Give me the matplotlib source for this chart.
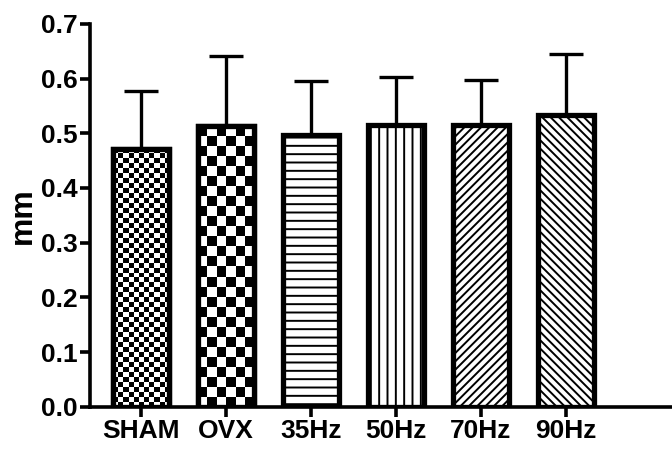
import numpy as np
import matplotlib
matplotlib.use("Agg")
import matplotlib.pyplot as plt

groups = ["SHAM", "OVX", "35Hz", "50Hz", "70Hz", "90Hz"]
means = [0.472, 0.513, 0.497, 0.515, 0.515, 0.533]
errs = [0.106, 0.129, 0.099, 0.088, 0.083, 0.111]
yticks = [0.0, 0.1, 0.2, 0.3, 0.4, 0.5, 0.6, 0.7]

plt.rcParams["font.family"] = ["Liberation Sans", "DejaVu Sans"]
plt.rcParams["font.weight"] = "bold"
plt.rcParams["hatch.linewidth"] = 1.4
plt.rcParams["hatch.color"] = "black"

fig = plt.figure(figsize=(6.72, 4.5), dpi=100)
ax = fig.add_axes([0.134, 0.096, 0.866, 0.851])

x = np.arange(len(groups))
width = 0.66
hatches = [None, None, "--", "||", "////", "\\\\\\\\"]
edge_lw = 3.8

# error bars first so bars cover the lower half
ax.errorbar(x, means, yerr=[np.zeros(len(errs)), errs], fmt="none",
            ecolor="black", elinewidth=2.4, capsize=12, capthick=2.4, zorder=1)

bars = ax.bar(x, means, width, color="white", edgecolor="black",
              linewidth=edge_lw, zorder=2)
for b, h in zip(bars, hatches):
    if h:
        b.set_hatch(h)

# checkerboard fills for SHAM and OVX
px_per_unit_y = 0.851 * 450 / 0.7
px_per_unit_x = 0.866 * 672 / 6.85
for i, sq in [(0, 5), (1, 10)]:
    b = bars[i]
    w_px = width * px_per_unit_x
    h_px = means[i] * px_per_unit_y
    nc = int(round(w_px / sq))
    nr = int(round(h_px / sq))
    board = (np.add.outer(np.arange(nr), np.arange(nc)) % 2).astype(float)
    im = ax.imshow(board, cmap="gray", interpolation="nearest", aspect="auto",
                   extent=[x[i] - width / 2, x[i] + width / 2, 0, means[i]],
                   zorder=2.5)
    im.set_clip_path(b)
    ax.bar(x[i], means[i], width, color="none", edgecolor="black",
           linewidth=edge_lw, zorder=3)

ax.set_xlim(-0.6, 6.25)
ax.set_ylim(0, 0.7)
ax.set_yticks(yticks)
ax.set_yticklabels([f"{t:.1f}" for t in yticks])
ax.set_xticks(x)
ax.set_xticklabels(groups)
ax.set_ylabel("mm", fontsize=23, fontweight="bold", labelpad=2)

for s in ["top", "right"]:
    ax.spines[s].set_visible(False)
for s in ["left", "bottom"]:
    ax.spines[s].set_linewidth(2.6)
ax.tick_params(axis="both", width=2.6, length=7, labelsize=19, pad=2)

fig.savefig("out.png", dpi=100)
